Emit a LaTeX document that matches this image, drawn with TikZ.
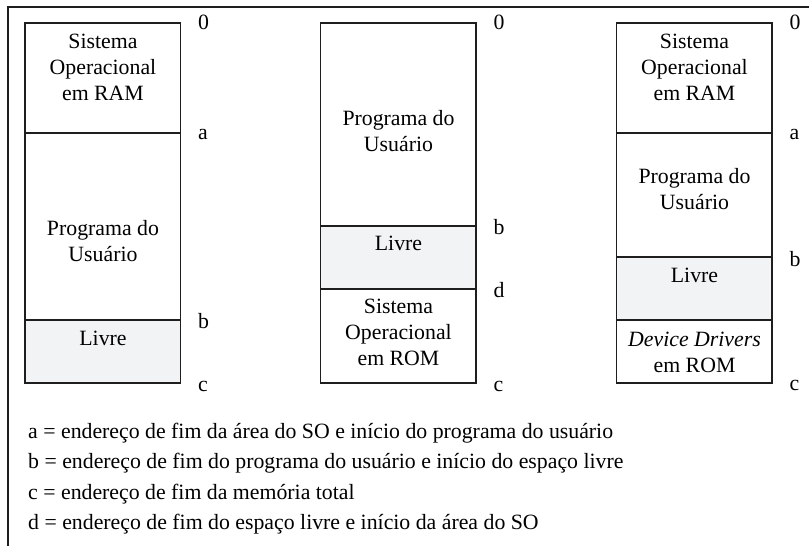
\documentclass[tikz,border=0pt]{standalone}
\usepackage{fontspec}
\setmainfont{Liberation Serif}
\usetikzlibrary{positioning}
\definecolor{CLivre}{HTML}{F2F3F5}
\definecolor{CLinha}{HTML}{1E1E1E}

\begin{document}
\begin{tikzpicture}[x=1pt, y=-1pt,
    font=\fontsize{21.8}{26}\selectfont,
    bloco/.style={draw=CLinha, line width=1.3pt},
    texto/.style={align=center, inner sep=0pt},
    rotulo/.style={anchor=base west, inner sep=0pt},
    legenda/.style={anchor=base west, inner sep=0pt}]
    \useasboundingbox (0,0) rectangle (809,546);

    % Moldura
    \draw[CLinha, line width=1.1pt] (8,560) -- (8,7) -- (820,7);

    % Mapa 1: SO em RAM
    \begin{scope}[shift={(25,0)}]
        \fill[CLivre] (0,320) rectangle (155.5,383);
        \draw[bloco] (0,23) rectangle (155.5,383);
        \draw[bloco] (0,133) -- (155.5,133);
        \draw[bloco] (0,320) -- (155.5,320);
        \node[texto] (so1) at (78,67) {Sistema\\Operacional\\em RAM};
        \node[texto] (prog1) at (78,241) {Programa do\\Usuário};
        \node[texto] (livre1) at (78,338) {Livre};
        \node[rotulo] (zero1) at (173,29) {0};
        \node[rotulo] (a1) at (173,139) {a};
        \node[rotulo] (b1) at (173,328) {b};
        \node[rotulo] (c1) at (173,391) {c};
    \end{scope}

    % Mapa 2: SO em ROM
    \begin{scope}[shift={(320.5,0)}]
        \fill[CLivre] (0,226) rectangle (155.5,289);
        \draw[bloco] (0,23) rectangle (155.5,383);
        \draw[bloco] (0,226) -- (155.5,226);
        \draw[bloco] (0,289) -- (155.5,289);
        \node[texto] (prog2) at (78,131.5) {Programa do\\Usuário};
        \node[texto] (livre2) at (78,243.5) {Livre};
        \node[texto] (so2) at (78,332) {Sistema\\Operacional\\em ROM};
        \node[rotulo] (zero2) at (173,29) {0};
        \node[rotulo] (b2) at (173,234) {b};
        \node[rotulo] (d2) at (173,297) {d};
        \node[rotulo] (c2) at (173,391) {c};
    \end{scope}

    % Mapa 3: SO em RAM e drivers em ROM
    \begin{scope}[shift={(616.5,0)}]
        \fill[CLivre] (0,257) rectangle (155.5,320);
        \draw[bloco] (0,23) rectangle (155.5,383);
        \draw[bloco] (0,133) -- (155.5,133);
        \draw[bloco] (0,257) -- (155.5,257);
        \draw[bloco] (0,320) -- (155.5,320);
        \node[texto] (so3) at (78,67) {Sistema\\Operacional\\em RAM};
        \node[texto] (prog3) at (78,189.5) {Programa do\\Usuário};
        \node[texto] (livre3) at (78,275.5) {Livre};
        \node[texto] (drv3) at (78,352) {\textit{Device Drivers}\\em ROM};
        \node[rotulo] (zero3) at (173,29) {0};
        \node[rotulo] (a3) at (173,139) {a};
        \node[rotulo] (b3) at (173,266) {b};
        \node[rotulo] (c3) at (173,390) {c};
    \end{scope}

    % Legenda
    \node[legenda] (lega) at (28,438) {a = endereço de fim da área do SO e início do programa do usuário};
    \node[legenda] (legb) at (28,468.5) {b = endereço de fim do programa do usuário e início do espaço livre};
    \node[legenda] (legc) at (28,499) {c = endereço de fim da memória total};
    \node[legenda] (legd) at (28,529.5) {d = endereço de fim do espaço livre e início da área do SO};
\end{tikzpicture}
\end{document}
